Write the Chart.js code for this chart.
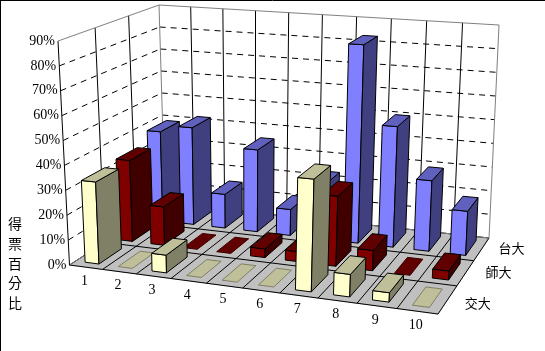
<!DOCTYPE html>
<html>
<head>
<meta charset="utf-8">
<style>
  html, body { margin: 0; padding: 0; background: #fff; }
  canvas { display: block; }
</style>
<script src="https://cdn.jsdelivr.net/npm/chart.js@4/dist/chart.umd.js"></script>
</head>
<body>
<canvas id="chart" width="545" height="351"></canvas>
<script>
// values, in percent
const categories = ['1', '2', '3', '4', '5', '6', '7', '8', '9', '10'];
const seriesNames = ['交大', '師大', '台大']; // front to back
const jiaoda = [33, 0, 7, 0, 0, 0, 43, 8.5, 3.5, 0];
const shida = [34, 16, 0, 0, 3.5, 4, 28, 8, 0, 3.5];
const taida = [39, 42, 14.5, 35, 11, 23, 83, 50, 29, 18];
const yTitle = '得票百分比';

// screen corners of the floor and of the plane at the top of the value axis
const floorQuad = [[69.5, 265], [438, 314], [489, 238], [165, 203]];
const topQuad = [[58, 41], [449, 68], [499, 25], [159, 5]];
const BAR_DEPTH = 0.22; // share of the whole depth axis
const SERIF = '"Liberation Serif", serif';
const CJK = '"Noto Sans CJK TC", sans-serif';
const depthLabelDx = [30, 33, 30];
const depthLabelDy = [4, -1, -1];

// unit square -> quad
const makeHomography = (q) => {
    const [[x0, y0], [x1, y1], [x2, y2], [x3, y3]] = q;
    const dx1 = x1 - x2, dx2 = x3 - x2, sx = x0 - x1 + x2 - x3;
    const dy1 = y1 - y2, dy2 = y3 - y2, sy = y0 - y1 + y2 - y3;
    const den = dx1 * dy2 - dx2 * dy1;
    const g = (sx * dy2 - dx2 * sy) / den;
    const h = (dx1 * sy - sx * dy1) / den;
    const a = x1 - x0 + g * x1, b = x3 - x0 + h * x3;
    const d = y1 - y0 + g * y1, e = y3 - y0 + h * y3;
    return (u, w) => {
        const k = g * u + h * w + 1;
        return [(a * u + b * w + x0) / k, (d * u + e * w + y0) / k];
    };
};
const onFloor = makeHomography(floorQuad);
const onTop = makeHomography(topQuad);

// u: along categories, w: into the depth, v: 0..1 up the value axis
const project = (u, w, v) => {
    const f = onFloor(u, w), t = onTop(u, w);
    return [f[0] + (t[0] - f[0]) * v, f[1] + (t[1] - f[1]) * v];
};

const line = (ctx, a, b, color, dash) => {
    ctx.save();
    ctx.strokeStyle = color;
    ctx.lineWidth = 1;
    ctx.setLineDash(dash || []);
    ctx.beginPath();
    ctx.moveTo(a[0], a[1]);
    ctx.lineTo(b[0], b[1]);
    ctx.stroke();
    ctx.restore();
};

const face = (ctx, pts, fill, stroke) => {
    ctx.beginPath();
    pts.forEach((p, i) => (i ? ctx.lineTo(p[0], p[1]) : ctx.moveTo(p[0], p[1])));
    ctx.closePath();
    ctx.fillStyle = fill;
    ctx.fill();
    ctx.strokeStyle = stroke;
    ctx.lineWidth = 1;
    ctx.stroke();
};

// normal bar controller, only the drawing goes through the 3d projection
class Bar3DController extends Chart.BarController {
    draw() {
        const { ctx, chartArea: area, scales } = this.chart;
        const ds = this.getDataset();
        const zc = (scales.z.getPixelForValue(seriesNames.indexOf(ds.label)) - area.left) / area.width;
        const w0 = zc - BAR_DEPTH / 2, w1 = zc + BAR_DEPTH / 2;

        this.getMeta().data.forEach((el) => {
            const u0 = (el.x - el.width / 2 - area.left) / area.width;
            const u1 = (el.x + el.width / 2 - area.left) / area.width;
            const v = (area.bottom - el.y) / area.height;
            const topFace = [project(u0, w0, v), project(u1, w0, v), project(u1, w1, v), project(u0, w1, v)];
            if (v === 0) {
                face(ctx, topFace, ds.topColor, ds.sideColor);
                return;
            }
            face(ctx, [project(u0, w0, 0), project(u1, w0, 0), project(u1, w0, v), project(u0, w0, v)], ds.frontColor, '#000');
            face(ctx, [project(u1, w0, 0), project(u1, w1, 0), project(u1, w1, v), project(u1, w0, v)], ds.sideColor, '#000');
            face(ctx, topFace, ds.topColor, '#000');
        });
    }
}
Bar3DController.id = 'bar3d';
Bar3DController.defaults = Chart.BarController.defaults;
Chart.register(Bar3DController);

// walls, floor and all axis text
const box3d = {
    id: 'box3d',
    beforeDatasetsDraw(chart) {
        const { ctx, chartArea: area, scales } = chart;
        const { x, y, z } = scales;
        const vOf = (val) => (area.bottom - y.getPixelForValue(val)) / area.height;
        const uEdges = categories.map((_, i) => i / categories.length).concat(1);
        const wEdges = seriesNames.map((_, i) => i / seriesNames.length).concat(1);

        ctx.fillStyle = '#fff';
        ctx.fillRect(0, 0, chart.width, chart.height);
        line(ctx, [0, 0.5], [chart.width, 0.5], '#000');
        line(ctx, [0.5, 0], [0.5, chart.height], '#000');

        // floor
        face(ctx, [project(0, 0, 0), project(1, 0, 0), project(1, 1, 0), project(0, 1, 0)], '#c0c0c0', '#c0c0c0');
        uEdges.forEach((u) => line(ctx, project(u, 0, 0), project(u, 1, 0), '#000'));
        wEdges.forEach((w) => line(ctx, project(0, w, 0), project(1, w, 0), '#000'));
        line(ctx, project(0, 0, 0), project(0, 1, 0), '#808080');
        line(ctx, project(0, 1, 0), project(1, 1, 0), '#808080');

        // value gridlines on both walls
        y.ticks.forEach((t) => {
            const v = vOf(t.value);
            if (v > 0 && v < 1) {
                line(ctx, project(0, 0, v), project(0, 1, v), '#000', [6, 5]);
                line(ctx, project(0, 1, v), project(1, 1, v), '#000', [6, 5]);
            }
        });
        wEdges.slice(1, -1).forEach((w) => line(ctx, project(0, w, 0), project(0, w, 1), '#000'));
        uEdges.slice(1, -1).forEach((u) => line(ctx, project(u, 1, 0), project(u, 1, 1), '#000'));

        // wall frame
        line(ctx, project(0, 0, 0), project(0, 0, 1), '#000');
        line(ctx, project(0, 0, 1), project(0, 1, 1), '#808080');
        line(ctx, project(0, 1, 0), project(0, 1, 1), '#808080');
        line(ctx, project(0, 1, 1), project(1, 1, 1), '#808080');
        line(ctx, project(1, 1, 0), project(1, 1, 1), '#808080');

        // labels
        ctx.fillStyle = '#000';
        ctx.textBaseline = 'middle';
        ctx.font = '14px ' + SERIF;
        ctx.textAlign = 'right';
        y.ticks.forEach((t) => {
            const p = project(0, 0, vOf(t.value));
            ctx.fillText(t.value + '%', p[0] - 3, p[1]);
        });
        ctx.textAlign = 'center';
        categories.forEach((c, i) => {
            const u = (x.getPixelForValue(i) - area.left) / area.width;
            const p = project(u, 0, 0);
            ctx.fillText(c, p[0] - 1.5, p[1] + 14);
        });
        ctx.font = '13px ' + CJK;
        seriesNames.forEach((s, i) => {
            const w = (z.getPixelForValue(i) - area.left) / area.width;
            const p = project(1, w, 0);
            ctx.fillText(s, p[0] + depthLabelDx[i], p[1] + depthLabelDy[i]);
        });
        ctx.font = '14px ' + CJK;
        Array.from(yTitle).forEach((ch, i) => ctx.fillText(ch, 15, 224 + i * 19.7));
    }
};

new Chart(document.getElementById('chart'), {
    type: 'bar3d',
    data: {
        labels: categories,
        datasets: [
            { label: seriesNames[0], data: jiaoda, frontColor: '#ffffcc', sideColor: '#808066', topColor: '#bfbf99' },
            { label: seriesNames[1], data: shida, frontColor: '#800000', sideColor: '#400000', topColor: '#600000' },
            { label: seriesNames[2], data: taida, frontColor: '#8080ff', sideColor: '#404080', topColor: '#6060bf' },
        ],
    },
    options: {
        responsive: false,
        animation: false,
        grouped: false,
        barPercentage: 1,
        categoryPercentage: 0.42,
        layout: { padding: 0 },
        plugins: { legend: { display: false }, tooltip: { enabled: false } },
        scales: {
            x: { type: 'category', display: false, offset: true },
            y: { type: 'linear', display: false, min: 0, max: 90, ticks: { stepSize: 10 } },
            z: { type: 'category', axis: 'x', position: 'bottom', display: false, offset: true, labels: seriesNames },
        },
    },
    plugins: [box3d],
});
</script>
</body>
</html>
